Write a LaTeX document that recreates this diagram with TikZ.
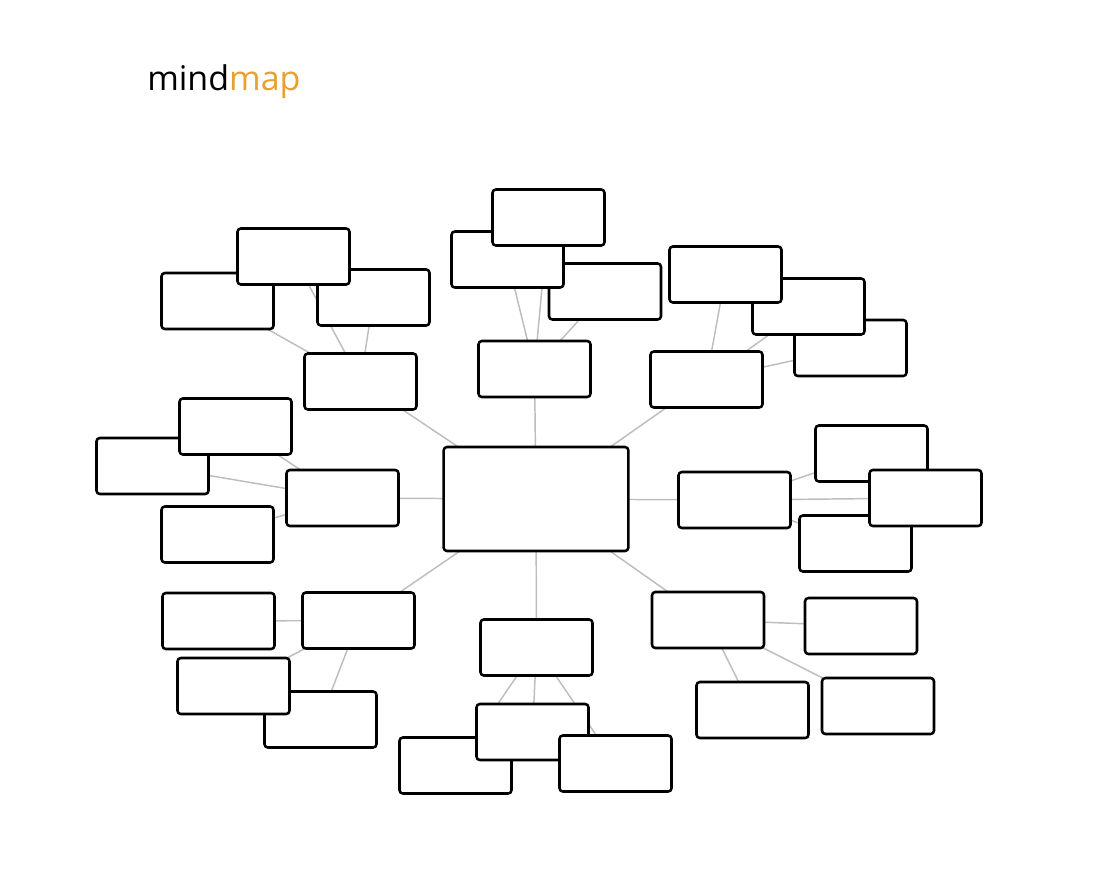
\documentclass[tikz,border=0pt]{standalone}
\usepackage{fontspec}
\newfontfamily\titlefont{Open Sans}
\usetikzlibrary{backgrounds}
\definecolor{linkgray}{HTML}{BDBDBD}
\definecolor{titleorange}{HTML}{E9A030}
\tikzset{
  box/.style={draw=black, fill=white, line width=1.9pt, rounded corners=2.5pt,
    inner sep=0pt, outer sep=0pt, minimum width=84pt, minimum height=42pt},
  hub/.style={box, minimum width=138.5pt, minimum height=78pt},
  link/.style={draw=linkgray, line width=1.1pt}
}
\begin{document}
\begin{tikzpicture}[x=0.75pt, y=-0.75pt]
\useasboundingbox (0,0) rectangle (1099,871);
\node[anchor=base west, inner sep=0pt, font=\titlefont\fontsize{25.5pt}{30pt}\selectfont] (title) at (147,90) {mind\textcolor{titleorange}{map}};
% hub
\node[hub] (c) at (536,499) {};
% top-left cluster
\node[box] (a) at (360.5,381.5) {};
\node[box] (a1) at (217.5,301) {};
\node[box] (a3) at (373.5,297.5) {};
\node[box] (a2) at (293.5,256.5) {};
% top-middle cluster
\node[box] (b) at (534.5,369) {};
\node[box] (b3) at (605,291.5) {};
\node[box] (b1) at (507.5,259.5) {};
\node[box] (b2) at (548.5,217.5) {};
% top-right cluster
\node[box] (cc) at (706.5,379.5) {};
\node[box] (c3) at (850.5,348) {};
\node[box] (c2) at (808.5,306.5) {};
\node[box] (c1) at (725.5,274.5) {};
% right cluster
\node[box] (d) at (734.5,500) {};
\node[box] (d1) at (871.5,453.5) {};
\node[box] (d3) at (855.5,543.5) {};
\node[box] (d2) at (925.5,498) {};
% left cluster
\node[box] (e) at (342.5,498) {};
\node[box] (e2) at (152.5,466) {};
\node[box] (e1) at (235.5,426.5) {};
\node[box] (e3) at (217.5,534.5) {};
% bottom-left cluster
\node[box] (f) at (358.5,620.5) {};
\node[box] (f1) at (218.5,621) {};
\node[box] (f3) at (320.5,719.5) {};
\node[box] (f2) at (233.5,686) {};
% bottom-middle cluster
\node[box] (g) at (536.5,647.5) {};
\node[box] (g2) at (455.5,765.5) {};
\node[box] (g1) at (532.5,732) {};
\node[box] (g3) at (615.5,763.5) {};
% bottom-right cluster
\node[box] (h) at (708,620) {};
\node[box] (h1) at (861,626) {};
\node[box] (h2) at (752.5,710) {};
\node[box] (h3) at (878,706) {};
\begin{scope}[on background layer]
  \foreach \m in {a,b,cc,d,e,f,g,h} \path[link] (c.center) -- (\m.center);
  \foreach \k in {a1,a2,a3} \path[link] (a.center) -- (\k.center);
  \foreach \k in {b1,b2,b3} \path[link] (b.center) -- (\k.center);
  \foreach \k in {c1,c2,c3} \path[link] (cc.center) -- (\k.center);
  \foreach \k in {d1,d2,d3} \path[link] (d.center) -- (\k.center);
  \foreach \k in {e1,e2,e3} \path[link] (e.center) -- (\k.center);
  \foreach \k in {f1,f2,f3} \path[link] (f.center) -- (\k.center);
  \foreach \k in {g1,g2,g3} \path[link] (g.center) -- (\k.center);
  \foreach \k in {h1,h2,h3} \path[link] (h.center) -- (\k.center);
\end{scope}
\end{tikzpicture}
\end{document}
